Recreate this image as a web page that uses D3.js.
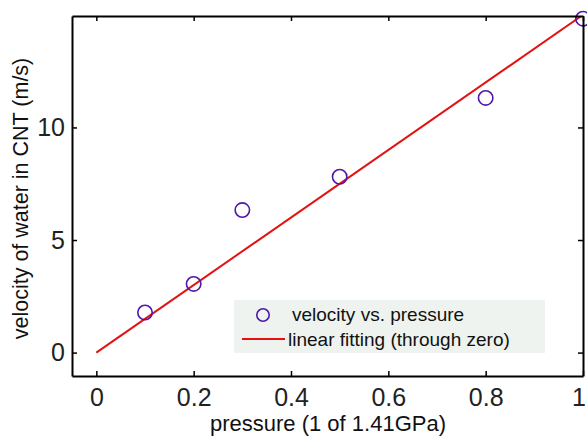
<!DOCTYPE html>
<html><head><meta charset="utf-8">
<script src="https://cdn.jsdelivr.net/npm/d3@7/dist/d3.min.js"></script>
<style>body{margin:0;background:#fff}svg{display:block}</style>
</head><body>
<svg id="c" width="587" height="436"></svg>
<script>
const pressure = [0.1, 0.2, 0.3, 0.5, 0.8, 1.0];
const velocity = [1.78, 3.05, 6.33, 7.81, 11.31, 14.83];
const fitX = [0, 1];
const fitY = [0, 15.0];
const xTicks = [0, 0.2, 0.4, 0.6, 0.8, 1];
const yTicks = [0, 5, 10];
const xTickLabels = ["0", "0.2", "0.4", "0.6", "0.8", "1"];
const yTickLabels = ["0", "5", "10"];
const legendLabels = ["velocity vs. pressure", "linear fitting (through zero)"];

const svg = d3.select("#c");
const L = 72, R = 583, T = 16, B = 376;
const x = d3.scaleLinear().domain([-0.05, 1]).range([L, R]);
const y = d3.scaleLinear().domain([-1.04, 14.95]).range([B, T]);
const font = "Liberation Sans, Arial, sans-serif";

svg.append("defs").append("clipPath").attr("id","clip")
  .append("rect").attr("x",L).attr("y",T).attr("width",R-L).attr("height",B-T);

// fit line
svg.append("path").datum(fitX.map((d,i)=>[d,fitY[i]]))
  .attr("clip-path","url(#clip)")
  .attr("d", d3.line().x(d=>x(d[0])).y(d=>y(d[1])))
  .attr("fill","none").attr("stroke","#e31212").attr("stroke-width",2);

// points
svg.append("g").selectAll("circle").data(pressure).join("circle")
  .attr("cx",(d)=>x(d)).attr("cy",(d,i)=>y(velocity[i])).attr("r",7.2)
  .attr("fill","none").attr("stroke","#5018a8").attr("stroke-width",1.6);

// axes
const tk = 5;
const axB = d3.axisBottom(x).tickValues(xTicks).tickFormat((d,i)=>xTickLabels[i]).tickSizeInner(-tk).tickSizeOuter(0).tickPadding(12);
const axT = d3.axisTop(x).tickValues(xTicks).tickFormat("").tickSizeInner(-tk).tickSizeOuter(0);
const axL = d3.axisLeft(y).tickValues(yTicks).tickFormat((d,i)=>yTickLabels[i]).tickSizeInner(-tk).tickSizeOuter(0).tickPadding(7);
const axR = d3.axisRight(y).tickValues(yTicks).tickFormat("").tickSizeInner(-tk).tickSizeOuter(0);

function style(g){
  g.selectAll("path").attr("stroke","#000").attr("stroke-width",2);
  g.selectAll("line").attr("stroke","#000").attr("stroke-width",1.5);
  g.selectAll("text").attr("font-family",font).attr("font-size",25).attr("fill","#222");
}
svg.append("g").attr("transform",`translate(0,${B})`).call(axB).call(style);
svg.append("g").attr("transform",`translate(0,${T})`).call(axT).call(style);
svg.append("g").attr("transform",`translate(${L},0)`).call(axL).call(style);
svg.append("g").attr("transform",`translate(${R},0)`).call(axR).call(style);
// keep the last x tick label inside the picture
svg.selectAll("g text").filter(function(){return this.textContent==="1";}).attr("text-anchor","end").attr("dx","0.1em");

// legend
const lg = svg.append("g");
lg.append("rect").attr("x",234).attr("y",300).attr("width",311).attr("height",53).attr("fill","#eef3ef");
lg.append("circle").attr("cx",263).attr("cy",315).attr("r",6.2).attr("fill","none").attr("stroke","#5018a8").attr("stroke-width",1.6);
lg.append("line").attr("x1",242).attr("x2",285).attr("y1",339).attr("y2",339).attr("stroke","#e31212").attr("stroke-width",2);
lg.selectAll("text").data(legendLabels).join("text")
  .attr("x",(d,i)=>i===0?292:288).attr("y",(d,i)=>i===0?321:345.5)
  .attr("font-family",font).attr("font-size",19).attr("fill","#111").text(d=>d);

// axis labels
svg.append("text").attr("x",328).attr("y",431).attr("text-anchor","middle")
  .attr("font-family",font).attr("font-size",22).attr("fill","#111").text("pressure (1 of 1.41GPa)");
svg.append("text").attr("transform","translate(27.5,198.5) rotate(-90)").attr("text-anchor","middle")
  .attr("font-family",font).attr("font-size",21.5).attr("fill","#111").text("velocity of water in CNT (m/s)");
</script>
</body></html>
